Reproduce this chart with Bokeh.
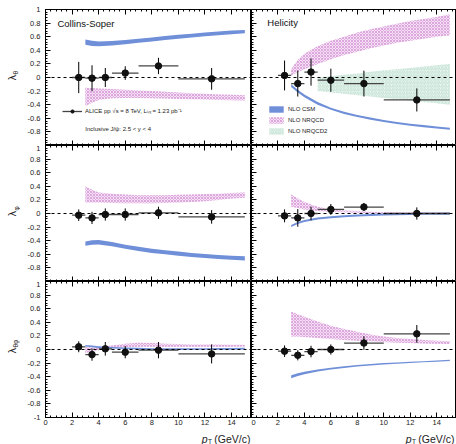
import math
from bokeh.plotting import figure
from bokeh.models import (Range1d, FixedTicker, LinearAxis, Span, Label,
                          Legend, LegendItem, CustomLabelingPolicy)
from bokeh.layouts import column, row
from bokeh.embed import file_html
from bokeh.resources import INLINE

# ---------------- data ----------------
pt = [2.5, 3.5, 4.5, 6.0, 8.5, 12.5]
pt_lo = [2, 3, 4, 5, 7, 10]
pt_hi = [3, 4, 5, 7, 10, 15]

cs_lth = [0.0, -0.01, 0.0, 0.065, 0.17, -0.02]
cs_lth_err = [0.23, 0.19, 0.14, 0.10, 0.12, 0.16]
hx_lth = [0.03, -0.09, 0.08, -0.04, -0.09, -0.33]
hx_lth_err = [0.22, 0.19, 0.20, 0.17, 0.19, 0.17]
cs_lph = [-0.025, -0.065, -0.015, -0.015, 0.01, -0.05]
cs_lph_err = [0.085, 0.09, 0.09, 0.09, 0.09, 0.10]
hx_lph = [-0.035, -0.065, 0.0, 0.06, 0.095, 0.0]
hx_lph_err = [0.095, 0.13, 0.10, 0.08, 0.06, 0.09]
cs_ltp = [0.04, -0.075, 0.01, -0.04, -0.01, -0.065]
cs_ltp_err = [0.08, 0.09, 0.10, 0.09, 0.12, 0.14]
hx_ltp = [-0.025, -0.085, -0.03, 0.0, 0.095, 0.23]
hx_ltp_err = [0.085, 0.075, 0.085, 0.075, 0.10, 0.13]

th_pt = [3, 3.5, 4, 5, 6, 7, 8, 9, 10, 11, 12, 13, 14, 15]

# lambda_theta, Collins-Soper
cs_lth_csm_lo = [0.48, 0.465, 0.46, 0.47, 0.49, 0.51, 0.53, 0.55, 0.57, 0.59, 0.605, 0.62, 0.635, 0.65]
cs_lth_csm_hi = [0.56, 0.54, 0.53, 0.535, 0.55, 0.57, 0.59, 0.61, 0.63, 0.645, 0.66, 0.675, 0.69, 0.70]
cs_lth_nrqcd_lo = [-0.42, -0.37, -0.33, -0.305, -0.30, -0.30, -0.305, -0.31, -0.315, -0.32, -0.325, -0.33, -0.335, -0.34]
cs_lth_nrqcd_hi = [-0.15, -0.155, -0.16, -0.17, -0.18, -0.19, -0.20, -0.21, -0.22, -0.23, -0.24, -0.25, -0.255, -0.26]
# lambda_theta, helicity
hx_lth_csm_lo = [-0.14, -0.22, -0.29, -0.40, -0.475, -0.535, -0.58, -0.62, -0.655, -0.685, -0.71, -0.73, -0.75, -0.77]
hx_lth_csm_hi = [-0.10, -0.18, -0.25, -0.36, -0.445, -0.505, -0.55, -0.59, -0.625, -0.655, -0.68, -0.70, -0.72, -0.74]
hx_lth_nrqcd_lo = [0.03, 0.08, 0.12, 0.20, 0.27, 0.33, 0.38, 0.43, 0.47, 0.51, 0.54, 0.57, 0.60, 0.62]
hx_lth_nrqcd_hi = [0.12, 0.26, 0.35, 0.46, 0.54, 0.60, 0.66, 0.71, 0.75, 0.79, 0.83, 0.86, 0.89, 0.93]
nrqcd2_pt = [5, 6, 7, 8, 9, 10, 11, 12, 13, 14, 15]
hx_lth_nrqcd2_lo = [-0.2, -0.22, -0.24, -0.26, -0.28, -0.30, -0.32, -0.34, -0.36, -0.38, -0.40]
hx_lth_nrqcd2_hi = [0.0, 0.02, 0.04, 0.06, 0.085, 0.105, 0.12, 0.14, 0.16, 0.18, 0.20]
# lambda_phi, Collins-Soper
cs_lph_csm_lo = [-0.475, -0.46, -0.455, -0.48, -0.52, -0.55, -0.58, -0.60, -0.62, -0.64, -0.655, -0.67, -0.68, -0.69]
cs_lph_csm_hi = [-0.41, -0.395, -0.39, -0.42, -0.46, -0.49, -0.52, -0.54, -0.56, -0.58, -0.595, -0.61, -0.62, -0.63]
cs_lph_nrqcd_lo = [0.16, 0.16, 0.16, 0.155, 0.15, 0.15, 0.15, 0.155, 0.16, 0.17, 0.18, 0.20, 0.22, 0.23]
cs_lph_nrqcd_hi = [0.40, 0.35, 0.31, 0.29, 0.28, 0.27, 0.27, 0.27, 0.275, 0.28, 0.285, 0.29, 0.30, 0.31]
# lambda_phi, helicity
hx_lph_csm_lo = [-0.20, -0.155, -0.125, -0.09, -0.07, -0.055, -0.045, -0.037, -0.031, -0.027, -0.023, -0.02, -0.018, -0.017]
hx_lph_csm_hi = [-0.17, -0.125, -0.095, -0.06, -0.04, -0.025, -0.015, -0.007, -0.001, 0.003, 0.007, 0.01, 0.012, 0.013]
hx_lph_nrqcd_lo = [0.10, 0.08, 0.06, 0.035, 0.025, 0.02, 0.01, 0.005, 0.0, 0.0, 0.0, 0.0, -0.003, -0.005]
hx_lph_nrqcd_hi = [0.28, 0.22, 0.17, 0.10, 0.06, 0.045, 0.035, 0.025, 0.02, 0.015, 0.015, 0.015, 0.015, 0.015]
# lambda_thetaphi, Collins-Soper
cs_ltp_csm_lo = [0.043, 0.033, 0.023, 0.013, 0.006, 0.0, -0.004, -0.006, -0.006, -0.005, -0.004, -0.003, -0.002, 0.0]
cs_ltp_csm_hi = [0.067, 0.057, 0.047, 0.037, 0.030, 0.024, 0.020, 0.018, 0.018, 0.019, 0.020, 0.021, 0.022, 0.024]
cs_ltp_nrqcd_lo = [-0.05, -0.03, -0.01, 0.02, 0.035, 0.04, 0.04, 0.04, 0.04, 0.04, 0.04, 0.04, 0.04, 0.045]
cs_ltp_nrqcd_hi = [0.04, 0.03, 0.035, 0.06, 0.085, 0.10, 0.095, 0.085, 0.08, 0.075, 0.075, 0.072, 0.07, 0.07]
# lambda_thetaphi, helicity
hx_ltp_csm_lo = [-0.422, -0.39, -0.363, -0.325, -0.293, -0.272, -0.251, -0.235, -0.22, -0.209, -0.199, -0.189, -0.179, -0.169]
hx_ltp_csm_hi = [-0.378, -0.35, -0.327, -0.295, -0.267, -0.248, -0.229, -0.215, -0.20, -0.191, -0.181, -0.171, -0.161, -0.151]
hx_ltp_nrqcd_lo = [0.19, 0.19, 0.185, 0.17, 0.155, 0.14, 0.13, 0.12, 0.11, 0.10, 0.095, 0.09, 0.085, 0.08]
hx_ltp_nrqcd_hi = [0.56, 0.52, 0.48, 0.41, 0.35, 0.30, 0.26, 0.22, 0.19, 0.17, 0.155, 0.14, 0.13, 0.12]

x_ticks = [0, 2, 4, 6, 8, 10, 12, 14]
y_ticks = [-1, -0.8, -0.6, -0.4, -0.2, 0, 0.2, 0.4, 0.6, 0.8, 1]
y_labels = ["-1", "-0.8", "-0.6", "-0.4", "-0.2", "0", "0.2", "0.4", "0.6", "0.8", "1"]

# ---------------- style / layout ----------------
FONT = "Liberation Sans"
TXT = "#222222"
CSM_COLOR = "#6f8fd8"
PINK_FILL = "#f5e0f5"
PINK_HATCH = "#c878c8"
GREEN_FILL = "#eef7f2"
GREEN_HATCH = "#93cbb2"

x_minor = [i * 0.4 for i in range(0, 39)]
y_minor = [-1 + i * 0.04 for i in range(0, 51)]

STRIP_W = 20          # left strip holding the y titles
LEFT_B = 25           # border left of the left frames (tick labels)
FW_L, FW_R = 206, 205
FH = 136
TOP_B = 9
BOT_B = 14
STRIP_H = 13          # bottom strip holding the x titles


def style_axis(ax, labels, standoff=3):
    ax.axis_line_color = "black"
    ax.major_tick_line_color = "black"
    ax.minor_tick_line_color = "black"
    ax.major_tick_in = 5
    ax.major_tick_out = 0
    ax.minor_tick_in = 2
    ax.minor_tick_out = 0
    if labels:
        ax.major_label_text_font = FONT
        ax.major_label_text_font_size = "7.5px"
        ax.major_label_text_color = TXT
        ax.major_label_standoff = standoff
    else:
        ax.major_label_policy = CustomLabelingPolicy(code="return []")
        ax.major_label_text_font_size = "0px"
        ax.major_label_standoff = 0


def make_panel(col, rowi, y_pts, y_err, bands):
    left = col == 0
    bottom = rowi == 2
    fw = FW_L if left else FW_R
    p = figure(frame_width=fw, frame_height=FH,
               x_range=Range1d(0, 15.5), y_range=Range1d(-1, 1),
               output_backend="svg", toolbar_location=None,
               x_axis_location=None, y_axis_location=None)
    p.min_border_left = LEFT_B if left else 0
    p.min_border_right = 0
    p.min_border_top = TOP_B if rowi == 0 else 0
    p.min_border_bottom = BOT_B if bottom else 0
    p.outline_line_color = "black"
    p.outline_line_width = 1
    p.background_fill_color = "white"
    p.border_fill_color = "white"

    yt = y_ticks if bottom else y_ticks[1:]
    yl = y_labels if bottom else y_labels[1:]
    yax = LinearAxis(ticker=FixedTicker(ticks=yt, minor_ticks=y_minor))
    style_axis(yax, left, standoff=5)
    if left:
        yax.major_label_overrides = {t: s for t, s in zip(yt, yl)}
    p.add_layout(yax, "left")

    xax = LinearAxis(ticker=FixedTicker(ticks=x_ticks, minor_ticks=x_minor))
    style_axis(xax, bottom, standoff=2)
    p.add_layout(xax, "below")
    tax = LinearAxis(ticker=FixedTicker(ticks=x_ticks, minor_ticks=x_minor))
    style_axis(tax, False)
    p.add_layout(tax, "above")
    p.xgrid.visible = False
    p.ygrid.visible = False

    rends = {}
    for name, xs, lo, hi in bands:
        if name == "csm":
            r = p.varea(x=xs, y1=lo, y2=hi, fill_color=CSM_COLOR, fill_alpha=1.0)
        elif name == "nrqcd":
            r = p.varea(x=xs, y1=lo, y2=hi, fill_color=PINK_FILL, fill_alpha=1.0,
                        hatch_pattern="x", hatch_color=PINK_HATCH,
                        hatch_scale=3, hatch_weight=0.6, hatch_alpha=0.9)
        else:
            r = p.varea(x=xs, y1=lo, y2=hi, fill_color=GREEN_FILL, fill_alpha=1.0,
                        hatch_pattern="/", hatch_color=GREEN_HATCH,
                        hatch_scale=3.5, hatch_weight=0.6, hatch_alpha=0.9)
        rends[name] = r

    p.add_layout(Span(location=0, dimension="width", line_color="black",
                      line_width=1, line_dash="3 3"))

    ylo = [v - e for v, e in zip(y_pts, y_err)]
    yhi = [v + e for v, e in zip(y_pts, y_err)]
    rh = p.segment(x0=pt_lo, y0=y_pts, x1=pt_hi, y1=y_pts,
                   line_color="#444444", line_width=1.3)
    p.segment(x0=pt, y0=ylo, x1=pt, y1=yhi, line_color="black", line_width=1)
    rs = p.scatter(x=pt, y=y_pts, size=6.5, marker="circle",
                   fill_color="#111111", line_color="#111111")
    rends["hbar"] = rh
    rends["pts"] = rs
    return p, rends


def strip(w, h):
    f = figure(width=w, height=h, x_range=Range1d(0, w), y_range=Range1d(h, 0),
               output_backend="svg", toolbar_location=None,
               x_axis_location=None, y_axis_location=None)
    f.min_border = 0
    f.outline_line_color = None
    f.background_fill_color = "white"
    f.border_fill_color = "white"
    f.xgrid.visible = False
    f.ygrid.visible = False
    return f


def lab(f, x, y, text, size, align="left", angle=0.0, style="normal"):
    f.add_layout(Label(x=x, y=y, text=text, angle=angle, text_align=align,
                       text_baseline="middle", text_font=FONT,
                       text_font_style=style, text_font_size=size,
                       text_color=TXT))


p11, r11 = make_panel(0, 0, cs_lth, cs_lth_err,
                      [("csm", th_pt, cs_lth_csm_lo, cs_lth_csm_hi),
                       ("nrqcd", th_pt, cs_lth_nrqcd_lo, cs_lth_nrqcd_hi)])
p12, r12 = make_panel(1, 0, hx_lth, hx_lth_err,
                      [("nrqcd2", nrqcd2_pt, hx_lth_nrqcd2_lo, hx_lth_nrqcd2_hi),
                       ("nrqcd", th_pt, hx_lth_nrqcd_lo, hx_lth_nrqcd_hi),
                       ("csm", th_pt, hx_lth_csm_lo, hx_lth_csm_hi)])
p21, r21 = make_panel(0, 1, cs_lph, cs_lph_err,
                      [("csm", th_pt, cs_lph_csm_lo, cs_lph_csm_hi),
                       ("nrqcd", th_pt, cs_lph_nrqcd_lo, cs_lph_nrqcd_hi)])
p22, r22 = make_panel(1, 1, hx_lph, hx_lph_err,
                      [("nrqcd", th_pt, hx_lph_nrqcd_lo, hx_lph_nrqcd_hi),
                       ("csm", th_pt, hx_lph_csm_lo, hx_lph_csm_hi)])
p31, r31 = make_panel(0, 2, cs_ltp, cs_ltp_err,
                      [("nrqcd", th_pt, cs_ltp_nrqcd_lo, cs_ltp_nrqcd_hi),
                       ("csm", th_pt, cs_ltp_csm_lo, cs_ltp_csm_hi)])
p32, r32 = make_panel(1, 2, hx_ltp, hx_ltp_err,
                      [("nrqcd", th_pt, hx_ltp_nrqcd_lo, hx_ltp_nrqcd_hi),
                       ("csm", th_pt, hx_ltp_csm_lo, hx_ltp_csm_hi)])

# texts inside the panels
p11.add_layout(Label(x=0.9, y=0.795, text="Collins-Soper", text_font=FONT,
                     text_font_size="9.5px", text_baseline="middle", text_color="#111111"))
p12.add_layout(Label(x=1.2, y=0.81, text="Helicity", text_font=FONT,
                     text_font_size="9.5px", text_baseline="middle", text_color="#111111"))
p11.add_layout(Label(x=3.0, y=-0.75, text="Inclusive J/ψ: 2.5 < y < 4", text_font=FONT,
                     text_font_size="6px", text_baseline="middle", text_color=TXT))

leg1 = Legend(items=[LegendItem(label="ALICE pp √s = 8 TeV, Lᵢₙₜ = 1.23 pb⁻¹",
                                renderers=[r11["hbar"], r11["pts"]])],
              location=(17, 30), padding=0, margin=0, spacing=0,
              glyph_width=20, glyph_height=8, label_height=8, label_width=10,
              label_standoff=3, label_text_font=FONT, label_text_font_size="6px",
              label_text_color=TXT, border_line_color=None,
              background_fill_alpha=0)
p11.add_layout(leg1)

leg2 = Legend(items=[LegendItem(label="NLO CSM", renderers=[r12["csm"]]),
                     LegendItem(label="NLO NRQCD", renderers=[r12["nrqcd"]]),
                     LegendItem(label="NLO NRQCD2", renderers=[r12["nrqcd2"]])],
              location=(16, 10), padding=0, margin=0, spacing=3,
              glyph_width=18, glyph_height=8, label_height=8, label_width=10,
              label_standoff=3, label_text_font=FONT, label_text_font_size="6px",
              label_text_color=TXT, border_line_color=None,
              background_fill_alpha=0)
p12.add_layout(leg2)

# y titles (left strip), coordinates in pixels from the strip's top-left
grid_h = TOP_B + 3 * FH + BOT_B
ls = strip(STRIP_W, grid_h)
VERT = math.pi / 2
lab(ls, 11, 77, "λ", "10.5px", "center", VERT)
lab(ls, 15, 74, "θ", "6.5px", "left", VERT)
lab(ls, 11, 213, "λ", "10.5px", "center", VERT)
lab(ls, 15.5, 210, "φ", "6.5px", "left", VERT)
lab(ls, 11, 350, "λ", "10.5px", "center", VERT)
lab(ls, 15, 347, "θφ", "6.5px", "left", VERT)

# x titles (bottom strip)
bs = strip(STRIP_W + LEFT_B + FW_L + FW_R, STRIP_H)
for x_end in (250, 454):
    lab(bs, x_end, 7, "(GeV/c)", "10.5px", "right")
    lab(bs, x_end - 43, 7, "p", "10.5px", "right", 0.0, "italic")
    lab(bs, x_end - 42.5, 10, "T", "6.5px", "left")

grid = column(row(p11, p12), row(p21, p22), row(p31, p32))
layout = column(row(ls, grid), bs)
open("out.html", "w").write(file_html(layout, INLINE))
